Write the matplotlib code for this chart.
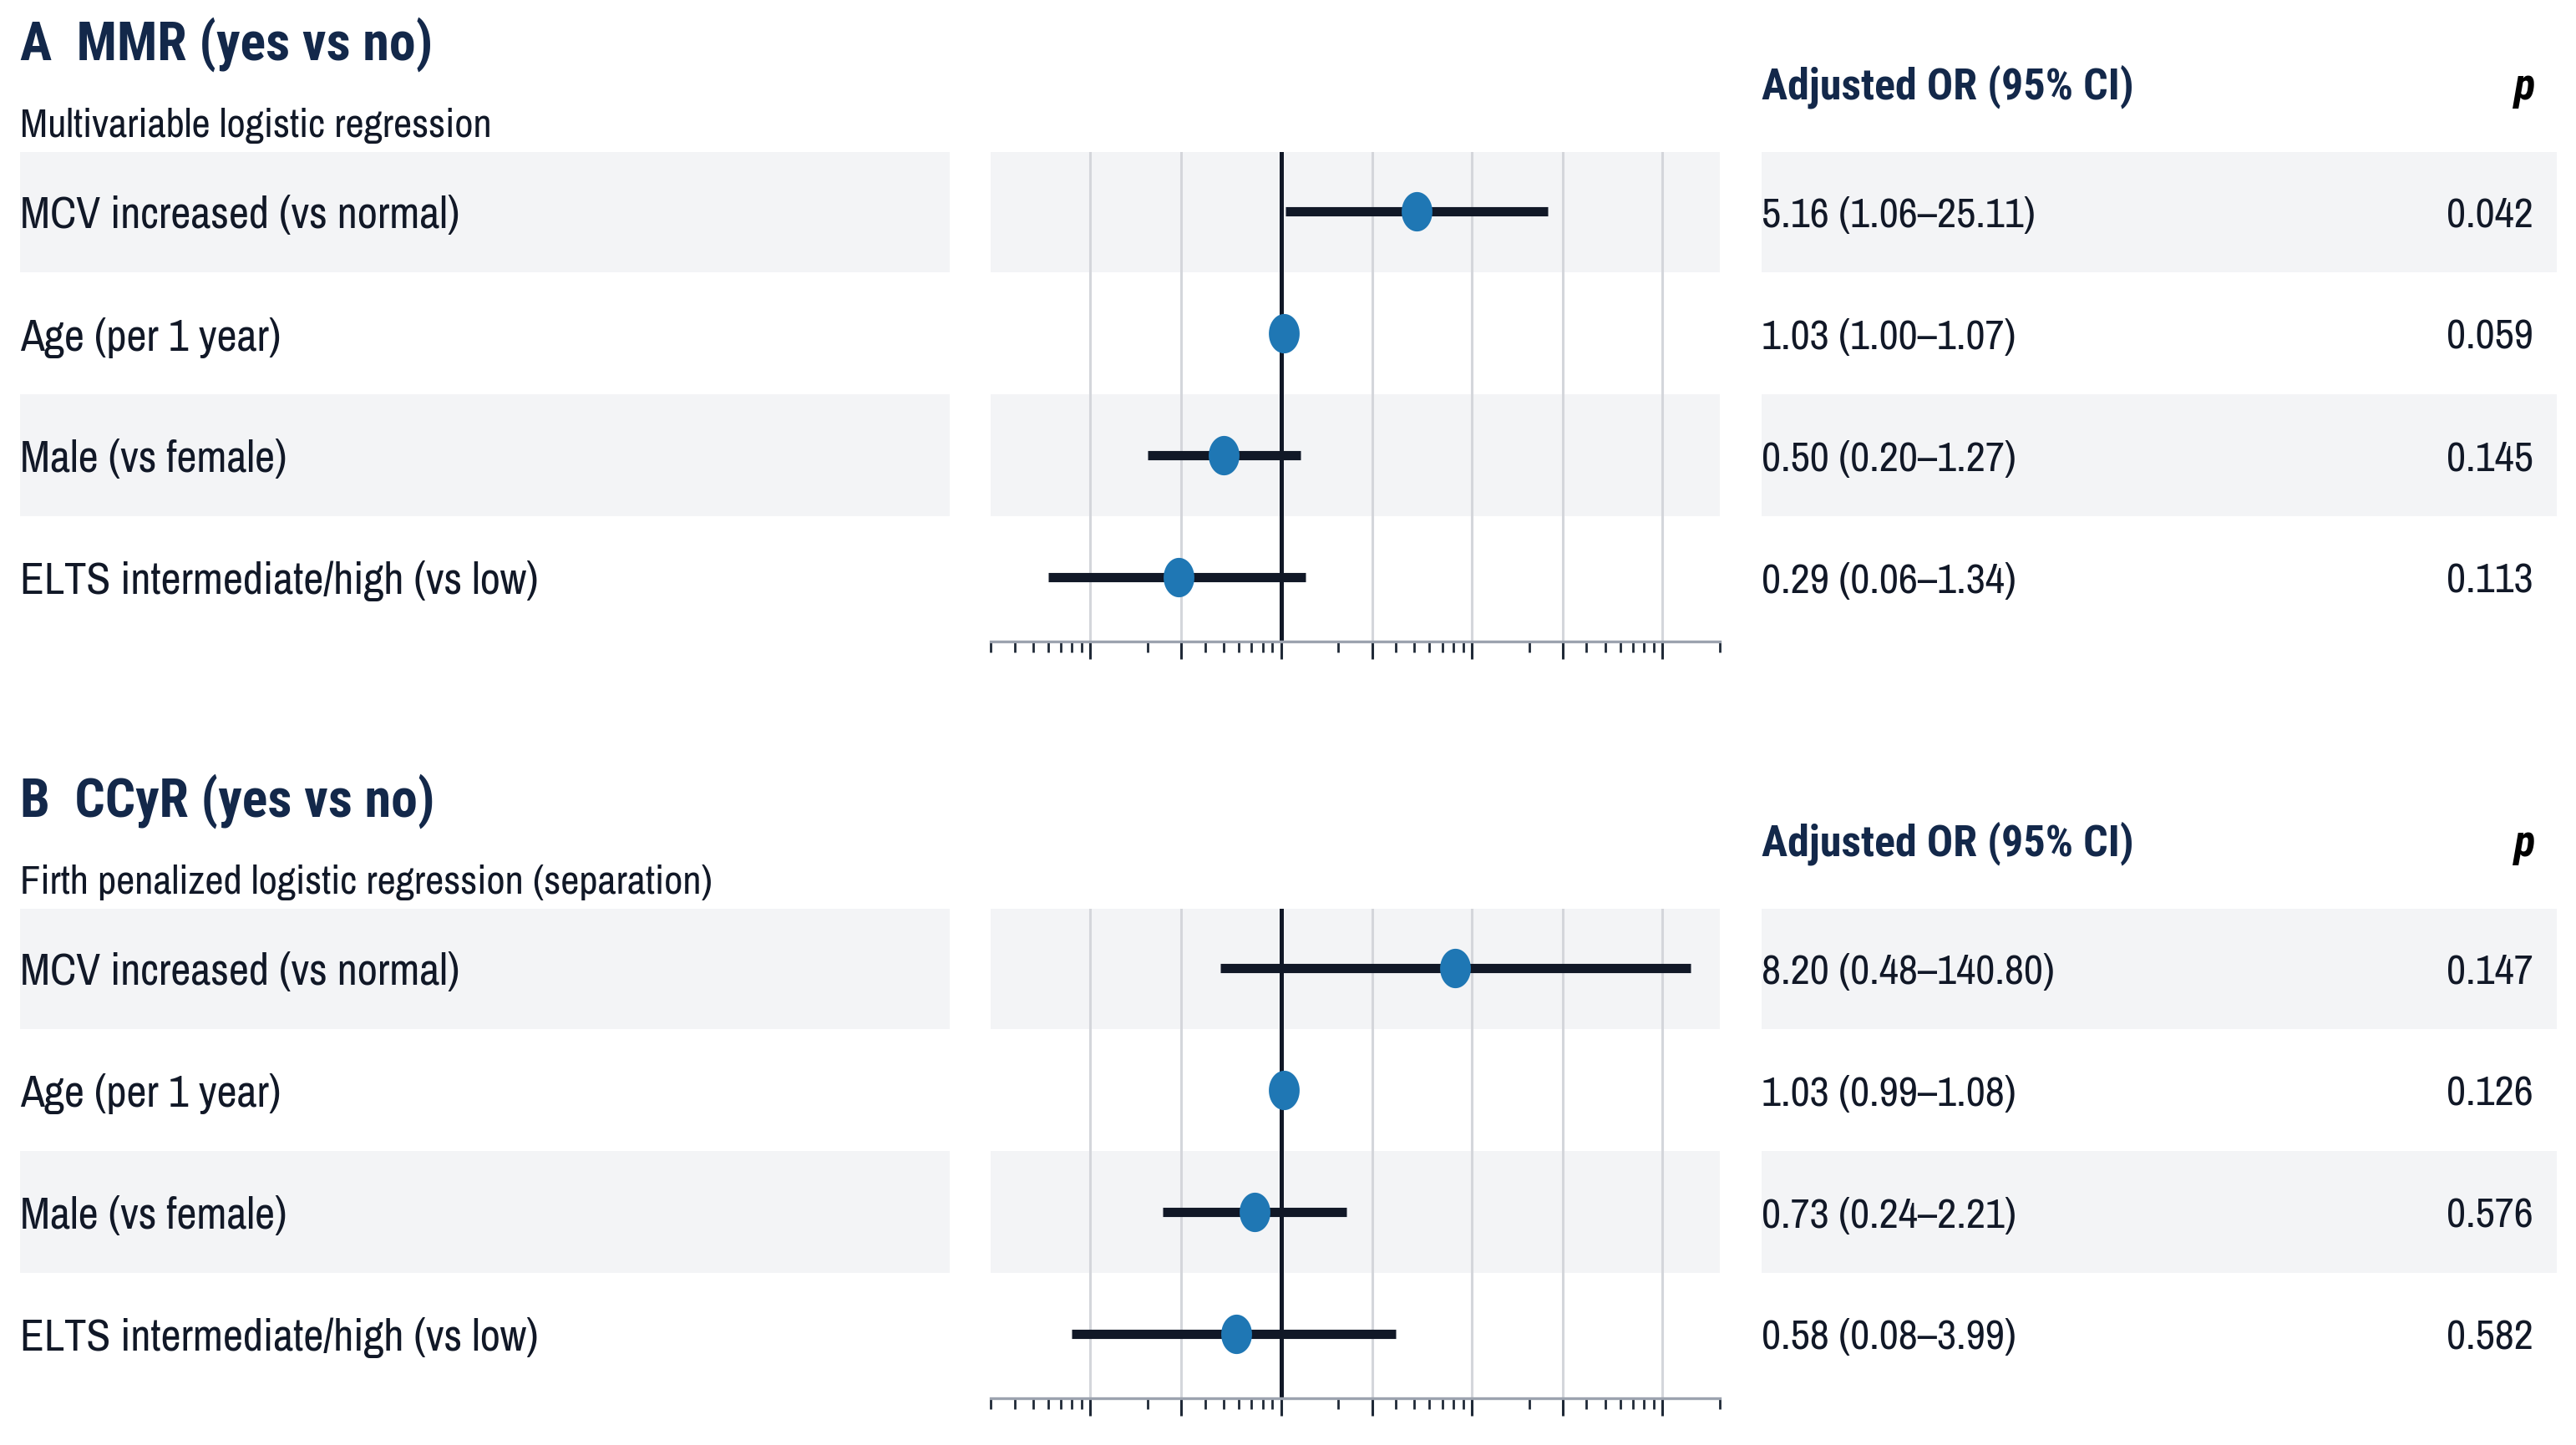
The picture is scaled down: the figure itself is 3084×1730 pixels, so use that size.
import numpy as np
import matplotlib
matplotlib.use("Agg")
import matplotlib.pyplot as plt
from matplotlib.ticker import FixedLocator, LogLocator, NullFormatter

plt.rcParams['font.family'] = ['Archivo Narrow', 'Liberation Sans', 'DejaVu Sans']
BOLD_FAMILY = ['Roboto Condensed', 'Fira Sans Condensed', 'Liberation Sans']

# Данные
variables = ["MCV increased (vs normal)", "Age (per 1 year)",
             "Male (vs female)", "ELTS intermediate/high (vs low)"]

or_a = [5.16, 1.03, 0.50, 0.29]
lo_a = [1.06, 1.00, 0.20, 0.06]
hi_a = [25.11, 1.07, 1.27, 1.34]
p_a = [0.042, 0.059, 0.145, 0.113]

or_b = [8.20, 1.03, 0.73, 0.58]
lo_b = [0.48, 0.99, 0.24, 0.08]
hi_b = [140.80, 1.08, 2.21, 3.99]
p_b = [0.147, 0.126, 0.576, 0.582]

W, H = 3084, 1731
NAVY = "#13284a"
DARK = "#111827"
BLUE = "#1f77b4"
BAND = "#f3f4f6"

fig = plt.figure(figsize=(W / 100, H / 100), dpi=100)


def fx(px):
    return px / W


def fy(px):
    return 1 - px / H


# маркер-эллипс (чуть вытянут по вертикали)
t = np.linspace(0, 2 * np.pi, 60)
ellipse = np.column_stack([0.78 * np.cos(t), np.sin(t)])


def panel(y0, title, subtitle, ors, los, his, ps):
    # y0 - смещение панели в пикселях
    row_y = [254 + y0, 401 + y0, 547 + y0, 692 + y0]
    top, bottom = 183 + y0, 769 + y0
    step = (row_y[-1] - row_y[0]) / 3
    ylim_top = -(row_y[0] - top) / step
    ylim_bot = 3 + (bottom - row_y[-1]) / step
    dy = 4 / step  # небольшой сдвиг текста вниз

    # фон и текст таблицы
    bg = fig.add_axes([0, fy(bottom), 1, (bottom - top) / H], zorder=0)
    bg.set_xlim(0, W)
    bg.set_ylim(ylim_bot, ylim_top)
    bg.axis("off")
    for i in (0, 2):
        bg.fill_between([24, 1137], i - 0.5, i + 0.5, color=BAND, lw=0)
        bg.fill_between([2109, 3061], i - 0.5, i + 0.5, color=BAND, lw=0)
    for i, name in enumerate(variables):
        bg.text(24, i + dy, name, fontsize=38, color=DARK,
                va="center", ha="left")
        bg.text(2109, i + dy, f"{ors[i]:.2f} ({los[i]:.2f}\u2013{his[i]:.2f})",
                fontsize=36.5, color=DARK, va="center", ha="left")
        bg.text(3033, i + dy, f"{ps[i]:.3f}", fontsize=36.5, color=DARK,
                va="center", ha="right")

    fig.text(fx(24), fy(53 + y0), title, fontsize=46, fontweight="bold",
             family=BOLD_FAMILY, color=NAVY, va="center", ha="left")
    fig.text(fx(24), fy(151 + y0), subtitle, fontsize=35, color=DARK,
             va="center", ha="left")
    fig.text(fx(2109), fy(104 + y0), "Adjusted OR (95% CI)", fontsize=37.5,
             fontweight="bold", family=BOLD_FAMILY, color=NAVY,
             va="center", ha="left")
    fig.text(fx(3035), fy(104 + y0), "p", fontsize=38, fontweight="bold",
             style="italic", family=BOLD_FAMILY, color="black",
             va="center", ha="right")

    # лесной график
    ax = fig.add_axes([fx(1186), fy(bottom), (2059 - 1186) / W,
                       (bottom - top) / H], zorder=1)
    ax.patch.set_alpha(0)
    ax.set_xscale("log")
    ax.set_xlim(0.03, 200)
    ax.set_ylim(ylim_bot, ylim_top)
    for i in (0, 2):
        ax.axhspan(i - 0.5, i + 0.5, color=BAND, lw=0, zorder=0)
    ax.xaxis.set_major_locator(FixedLocator([0.1, 0.3, 1, 3, 10, 30, 100]))
    ax.xaxis.set_minor_locator(LogLocator(base=10, subs=np.arange(2, 10)))
    ax.xaxis.set_major_formatter(NullFormatter())
    ax.xaxis.set_minor_formatter(NullFormatter())
    ax.grid(True, axis="x", which="major", color="#d4d6db", lw=2.2, zorder=1)
    ax.set_yticks([])
    for s in ("top", "left", "right"):
        ax.spines[s].set_visible(False)
    ax.spines["bottom"].set_color("#9ca3af")
    ax.spines["bottom"].set_linewidth(2.4)
    ax.tick_params(axis="x", which="major", length=15, width=2.2,
                   color="#1f2937", direction="out")
    ax.tick_params(axis="x", which="minor", length=9, width=2,
                   color="#1f2937", direction="out")

    ax.axvline(1, color=DARK, lw=3.6, zorder=2.5)
    ys = np.arange(len(ors))
    ax.hlines(ys, los, his, color=DARK, lw=8, zorder=3)
    ax.plot(ors, ys, linestyle="none", marker=ellipse, markersize=34,
            color=BLUE, markeredgewidth=0, zorder=4)


panel(0, "A  MMR (yes vs no)", "Multivariable logistic regression",
      or_a, lo_a, hi_a, p_a)
panel(906, "B  CCyR (yes vs no)",
      "Firth penalized logistic regression (separation)",
      or_b, lo_b, hi_b, p_b)

fig.savefig("out.png", dpi=100, facecolor="white")
